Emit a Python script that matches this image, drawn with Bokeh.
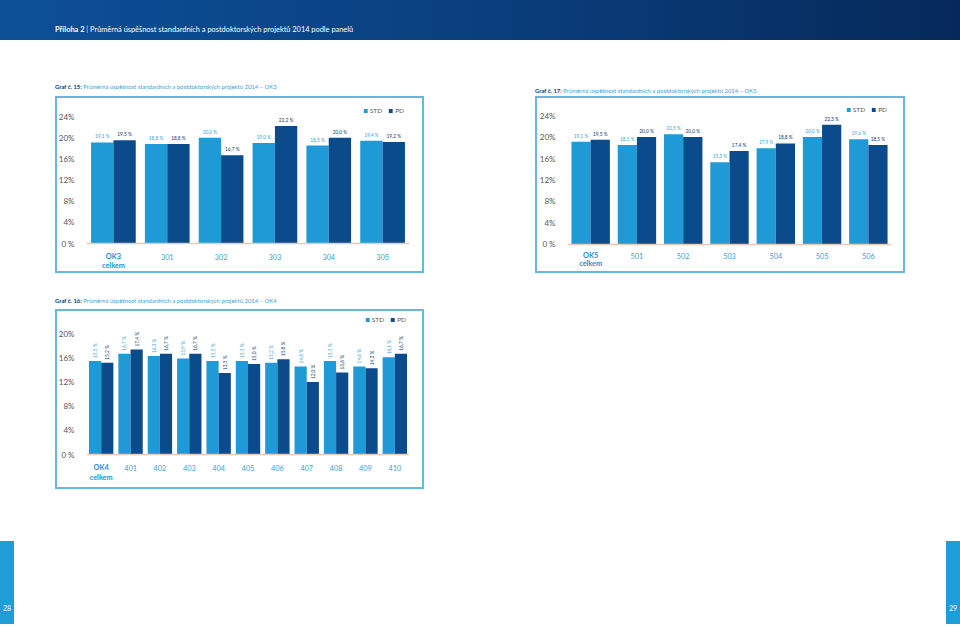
import math
from bokeh.plotting import figure
from bokeh.models import (Range1d, FactorRange, Span, Legend, LegendItem, Div, Spacer,
                          ColumnDataSource, FixedTicker)
from bokeh.layouts import column, row
from bokeh.transform import dodge
from bokeh.core.properties import value
from bokeh.embed import file_html
from bokeh.resources import INLINE

# ---------------- data ----------------
header_bold = "Příloha 2"
header_rest = "Průměrná úspěšnost standardních a postdoktorských projektů 2014 podle panelů"

title1_bold = "Graf č. 15:"
title1_rest = "Průměrná úspěšnost standardních a postdoktorských projektů 2014 – OK3"
cats1 = ["OK3 celkem", "301", "302", "303", "304", "305"]
std1 = [19.1, 18.8, 20.0, 19.0, 18.5, 19.4]
pd1 = [19.5, 18.8, 16.7, 22.2, 20.0, 19.2]
ticks1 = [0, 4, 8, 12, 16, 20, 24]
tick_labels1 = ["0 %", "4%", "8%", "12%", "16%", "20%", "24%"]

title2_bold = "Graf č. 17:"
title2_rest = "Průměrná úspěšnost standardních a postdoktorských projektů 2014 – OK5"
cats2 = ["OK5 celkem", "501", "502", "503", "504", "505", "506"]
std2 = [19.1, 18.5, 20.5, 15.3, 17.9, 20.0, 19.6]
pd2 = [19.5, 20.0, 20.0, 17.4, 18.8, 22.3, 18.5]
ticks2 = [0, 4, 8, 12, 16, 20, 24]
tick_labels2 = ["0 %", "4%", "8%", "12%", "16%", "20%", "24%"]

title3_bold = "Graf č. 16:"
title3_rest = "Průměrná úspěšnost standardních a postdoktorských projektů 2014 – OK4"
cats3 = ["OK4 celkem", "401", "402", "403", "404", "405", "406", "407", "408", "409", "410"]
std3 = [15.5, 16.7, 16.3, 15.9, 15.5, 15.5, 15.2, 14.6, 15.5, 14.6, 16.1]
pd3 = [15.2, 17.4, 16.7, 16.7, 13.5, 15.0, 15.8, 12.0, 13.6, 14.3, 16.7]
ticks3 = [0, 4, 8, 12, 16, 20]
tick_labels3 = ["0 %", "4%", "8%", "12%", "16%", "20%"]

series_names = ["STD", "PD"]
page_numbers = ["28", "29"]

# ---------------- style ----------------
FONT = "Lato"
STD_COLOR = "#1f9ad6"
PD_COLOR = "#0b4a8b"
STD_LBL = "#3aa3dc"
PD_LBL = "#0b3a72"
CAT_COLOR = "#3ba2da"
CAT_BOLD = "#1a8fd0"
AXIS_LBL = "#555555"
BOX = "#63b9de"
BASE = "#e8c9b9"


def fmt(v):
    return f"{v:.1f}".replace(".", ",") + " %"


def make_chart(cats, std, pd, ticks, tick_labels, W, H, L, R, T, B, yr,
               cat_y, celkem_y, rotated, leg_margin):
    src = ColumnDataSource(dict(cat=cats, std=std, pd=pd,
                                std_lbl=[fmt(v) for v in std],
                                pd_lbl=[fmt(v) for v in pd]))
    p = figure(width=W, height=H, x_range=FactorRange(factors=cats, range_padding=0),
               y_range=Range1d(*yr), x_axis_location=None,
               output_backend="svg", toolbar_location=None,
               min_border_left=L, min_border_right=R, min_border_top=T, min_border_bottom=B,
               border_fill_color=None, background_fill_color=None, outline_line_color=None,
               styles={"box-shadow": f"inset 0 0 0 2px {BOX}"})
    p.xgrid.visible = False
    p.ygrid.visible = False
    ax = p.yaxis[0]
    ax.ticker = FixedTicker(ticks=ticks)
    ax.major_label_overrides = {t: l for t, l in zip(ticks, tick_labels)}
    ax.axis_line_color = None
    ax.major_tick_line_color = None
    ax.minor_tick_line_color = None
    ax.major_label_standoff = 6
    ax.major_label_text_font = FONT
    ax.major_label_text_font_size = "8px"
    ax.major_label_text_color = AXIS_LBL

    off = 0.2075
    bw = 0.415
    r1 = p.vbar(x=dodge("cat", -off, range=p.x_range), top="std", width=bw, source=src,
                fill_color=STD_COLOR, line_color=None)
    r2 = p.vbar(x=dodge("cat", off, range=p.x_range), top="pd", width=bw, source=src,
                fill_color=PD_COLOR, line_color=None)

    p.add_layout(Span(location=0, dimension="width", line_color=BASE, line_width=1.3))

    if rotated:
        kw = dict(angle=math.pi / 2, text_align="left", text_baseline="middle",
                  x_offset=0, y_offset=-3, text_font_size="4.8px")
    else:
        kw = dict(text_align="center", text_baseline="bottom", y_offset=-3,
                  text_font_size="4.8px")
    p.text(x=dodge("cat", -off, range=p.x_range), y="std", text="std_lbl", source=src,
           text_font=value(FONT), text_color=STD_LBL, **kw)
    p.text(x=dodge("cat", off, range=p.x_range), y="pd", text="pd_lbl", source=src,
           text_font=value(FONT), text_color=PD_LBL, **kw)

    # category labels
    others = ColumnDataSource(dict(cat=cats[1:]))
    p.text(x="cat", y=cat_y, text="cat", source=others, text_font=value(FONT),
           text_font_size="7.3px", text_color=CAT_COLOR, text_align="center",
           text_baseline="middle")
    first = cats[0].split()
    p.text(x=[cats[0]], y=[cat_y], text=[first[0]], text_font=value(FONT),
           text_font_size="7.3px", text_font_style="bold", text_color=CAT_BOLD,
           text_align="center", text_baseline="middle")
    p.text(x=[cats[0]], y=[celkem_y], text=[first[1]], text_font=value(FONT),
           text_font_size="7.3px", text_font_style="bold", text_color=CAT_BOLD,
           text_align="center", text_baseline="middle")

    leg = Legend(items=[LegendItem(label=series_names[0], renderers=[r1]),
                        LegendItem(label=series_names[1], renderers=[r2])],
                 location="top_right", orientation="horizontal",
                 label_text_font=FONT, label_text_font_size="6.5px",
                 label_text_color=AXIS_LBL, glyph_width=5, glyph_height=5,
                 label_height=6, label_width=8, label_standoff=2, spacing=6, padding=0,
                 margin=leg_margin, background_fill_alpha=0, border_line_color=None)
    p.add_layout(leg)
    return p


def title_div(bold, rest, width):
    html = (f'<div style="width:{width}px;height:12px;line-height:12px;white-space:nowrap;'
            f'font-family:{FONT};font-size:5.9px;">'
            f'<span style="color:{PD_LBL};font-weight:bold">{bold}</span> '
            f'<span style="color:{CAT_COLOR}">{rest}</span></div>')
    return Div(text=html, width=width, height=12, margin=(0, 0, 0, 0))


def page_div(num):
    html = ('<div style="width:14px;height:83px;background:#1e9dd8;position:relative;">'
            f'<span style="position:absolute;bottom:11px;left:0;width:14px;text-align:center;'
            f'color:#ffffff;font-family:{FONT};font-size:7px;">{num}</span></div>')
    return Div(text=html, width=14, height=83, margin=(0, 0, 0, 0))


fig1 = make_chart(cats1, std1, pd1, ticks1, tick_labels1, 369, 177, 31, 11, 6, 3,
                  (-5.10, 26.65), -2.46, -4.16, False, 5)
fig2 = make_chart(cats2, std2, pd2, ticks2, tick_labels2, 370, 177, 32, 14, 6, 3,
                  (-4.84, 26.42), -2.05, -3.6, False, 4)
fig3 = make_chart(cats3, std3, pd3, ticks3, tick_labels3, 369, 180, 31, 15, 4, 3,
                  (-5.30, 23.36), -2.2, -3.76, True, 3)

header_html = ('<div style="width:960px;height:40px;box-sizing:border-box;padding:24px 0 0 55px;'
               'background:linear-gradient(90deg,#0c5098 0%,#0a3f7e 50%,#06295a 100%);'
               f'color:#ffffff;font-family:{FONT};font-size:7.4px;line-height:12px;white-space:nowrap;">'
               f'<b>{header_bold}</b> <span style="opacity:0.8">|</span> {header_rest}</div>')
header = Div(text=header_html, width=960, height=40, margin=(0, 0, 0, 0))

left_bar = column(Spacer(width=14, height=501), page_div(page_numbers[0]), spacing=0)
right_bar = column(Spacer(width=14, height=501), page_div(page_numbers[1]), spacing=0)

left_col = column(Spacer(width=369, height=37), title_div(title1_bold, title1_rest, 369),
                  Spacer(width=369, height=7), fig1,
                  Spacer(width=369, height=18), title_div(title3_bold, title3_rest, 369),
                  Spacer(width=369, height=6), fig3, spacing=0)
right_col = column(Spacer(width=370, height=41), title_div(title2_bold, title2_rest, 370),
                   Spacer(width=370, height=3), fig2, spacing=0)

body = row(left_bar, Spacer(width=41, height=10), left_col, Spacer(width=111, height=10),
           right_col, Spacer(width=41, height=10), right_bar, spacing=0)

page = column(header, body, spacing=0)

open("out.html", "w").write(file_html(page, INLINE))
